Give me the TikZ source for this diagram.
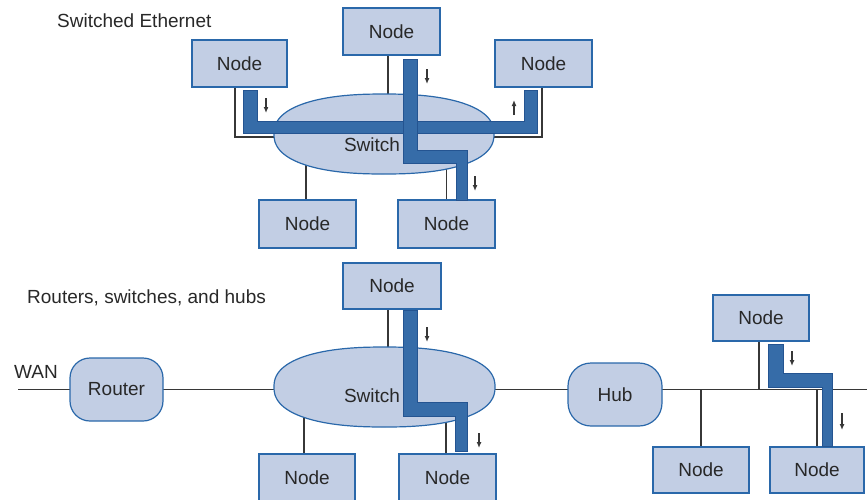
\documentclass[tikz,border=0pt]{standalone}
\usepackage{fontspec}
\setmainfont{Liberation Sans}
\usetikzlibrary{shapes.geometric,arrows.meta}
\definecolor{nodefill}{RGB}{194,206,228}
\definecolor{nodeedge}{RGB}{42,104,170}
\definecolor{bandfill}{RGB}{54,108,168}
\definecolor{bandedge}{RGB}{36,84,145}
\definecolor{wiregray}{RGB}{55,55,55}
\definecolor{txtgray}{RGB}{40,40,40}
\pgfdeclarelayer{bg}
\pgfsetlayers{bg,main}
\tikzset{
  box/.style={rectangle, draw=nodeedge, fill=nodefill, line width=1.3pt, inner sep=0pt,
    minimum width=97pt, minimum height=47pt},
  sw/.style={ellipse, inner sep=0pt, minimum width=220pt, minimum height=80pt},
  swshape/.style={draw=nodeedge, fill=nodefill, line width=1.2pt},
  rtr/.style={rectangle, rounded corners=20pt, draw=nodeedge, fill=nodefill, line width=1.2pt,
    inner sep=0pt, minimum width=93pt, minimum height=63pt},
  hubshape/.style={rectangle, rounded corners=23pt, draw=nodeedge, fill=nodefill, line width=1.2pt,
    inner sep=0pt, minimum width=94pt, minimum height=63pt},
  wire/.style={line width=1.1pt, draw=wiregray},
  band/.style={fill=bandfill, draw=bandedge, line width=0.9pt, line join=miter},
  flow/.style={line width=1.2pt, draw=wiregray, -{Latex[length=6pt,width=5pt]}},
  ttl/.style={anchor=west, inner sep=0pt}
}
% superellipse outline centred at #1,#2 with half axes #3,#4
\newcommand{\supell}[4]{%
  \path[swshape] plot[domain=0.5:360.5, samples=121, variable=\t]
    ({#1+#3*sign(cos(\t))*abs(cos(\t))^(0.85)}, {#2+#4*sign(sin(\t))*abs(sin(\t))^(0.85)}) -- cycle;}
\begin{document}
\begin{tikzpicture}[x=1pt, y=-1pt, font=\fontsize{19}{23}\selectfont, text=txtgray]
\useasboundingbox (0,0) rectangle (867,499);
\clip (0,0) rectangle (867,499);

% ---------- Switched Ethernet ----------
\node[ttl] (t1) at (57,21) {Switched Ethernet};
\node[box] (n1) at (391.5,31.5) {Node};
\node[box, minimum width=95pt] (n2) at (239.5,63.5) {Node};
\node[box] (n3) at (543.5,63.5) {Node};
\node[sw] (sw1) at (384,134) {};
\supell{384}{134}{110}{40}
\node[inner sep=0pt] (sw1t) at (372,145) {Switch};
\node[box, minimum height=48pt] (n4) at (307.5,224) {Node};
\node[box, minimum height=48pt] (n5) at (446.5,224) {Node};

\begin{pgfonlayer}{bg}
  \draw[wire] ([xshift=-4.5pt]n2.south) |- ([yshift=-3pt]sw1.center);
  \draw[wire] ([xshift=-1.5pt]n3.south) |- ([yshift=-3pt]sw1.center);
  \draw[wire] ([xshift=-3.5pt]n1.south) -- ([xshift=-3.5pt]n1.south |- sw1.center);
  \draw[wire] ([xshift=-1.5pt]n4.north) -- ([xshift=-1.5pt]n4.north |- sw1.center);
  \draw[wire] (n5.north) -- (n5.north |- sw1.center);
\end{pgfonlayer}

\path[band] (243,90) -- (257,90) -- (257,121) -- (524,121) -- (524,90) -- (537,90)
  -- (537,133) -- (243,133) -- cycle;
\path[band] (403,59) -- (417,59) -- (417,150) -- (467,150) -- (467,200) -- (456,200)
  -- (456,163) -- (403,163) -- cycle;

\draw[flow] (266,98) -- (266,113);
\draw[flow] (427,69) -- (427,84);
\draw[flow] (514,115) -- (514,100);
\draw[flow] (475,176) -- (475,191);

% ---------- Routers, switches, and hubs ----------
\node[ttl] (t2) at (27,298) {Routers, switches, and hubs};
\node[ttl] (wan) at (14,372) {WAN};
\coordinate (wanend) at (18,389.5);
\coordinate (lanend) at (867,389.5);
\node[rtr] (router) at (116.5,389.5) {Router};
\node[box, minimum width=98pt, minimum height=46pt] (m1) at (392,286) {Node};
\node[sw, minimum width=221pt] (sw2) at (384.5,387) {};
\supell{384.5}{387}{110.5}{40}
\node[inner sep=0pt] (sw2t) at (372,396) {Switch};
\node[box, minimum width=96pt] (m2) at (307,477.5) {Node};
\node[box] (m3) at (447.5,477.5) {Node};
\node[hubshape] (hub) at (615,394.5) {Hub};
\node[box, minimum width=96pt, minimum height=46pt] (h1) at (761,318) {Node};
\node[box, minimum width=96pt, minimum height=46pt] (h2) at (701,470) {Node};
\node[box, minimum width=94pt, minimum height=46pt] (h3) at (817,470) {Node};

\begin{pgfonlayer}{bg}
  \draw[wire] (wanend) -- (router.center);
  \draw[wire] (router.center) -- (hub.center |- router.center) -- (lanend);
  \draw[wire] ([xshift=-4pt]m1.south) -- ([xshift=-4pt]m1.south |- sw2.center);
  \draw[wire] ([xshift=-3pt]m2.north) -- ([xshift=-3pt]m2.north |- sw2.center);
  \draw[wire] ([xshift=-1.5pt]m3.north) -- ([xshift=-1.5pt]m3.north |- sw2.center);
  \draw[wire] ([xshift=-2pt]h1.south) -- ([xshift=-2pt]h1.south |- lanend);
  \draw[wire] (h2.north) -- (h2.north |- lanend);
  \draw[wire] (h3.north) -- (h3.north |- lanend);
\end{pgfonlayer}

\path[band] (403,310) -- (417,310) -- (417,402) -- (467,402) -- (467,451) -- (455,451)
  -- (455,416) -- (403,416) -- cycle;
\path[band] (768,344) -- (783,344) -- (783,373) -- (832,373) -- (832,446) -- (822,446)
  -- (822,387) -- (768,387) -- cycle;

\draw[flow] (427,327) -- (427,342);
\draw[flow] (479,433) -- (479,448);
\draw[flow] (792,351) -- (792,366);
\draw[flow] (842,413) -- (842,430);
\end{tikzpicture}
\end{document}
